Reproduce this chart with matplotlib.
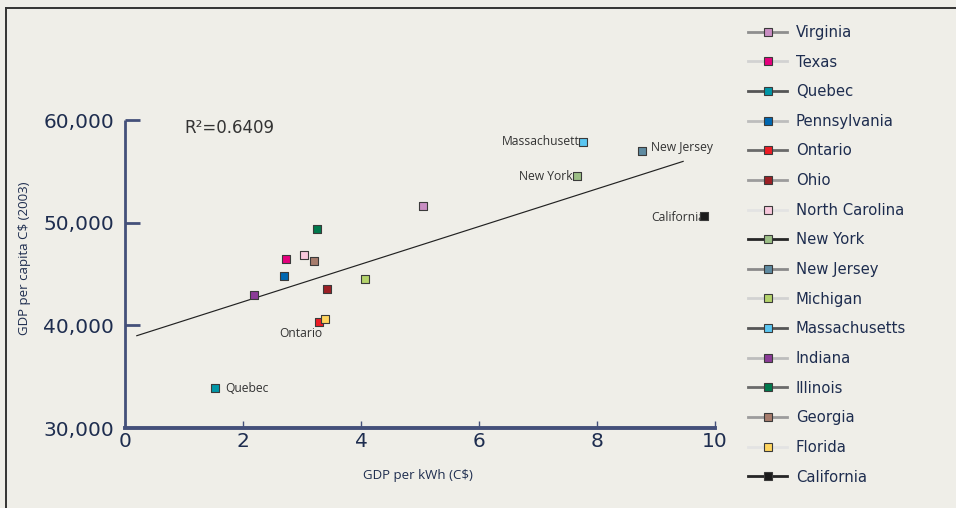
import matplotlib
matplotlib.use("Agg")
import matplotlib.pyplot as plt
from matplotlib.lines import Line2D

# Regions (legend order)
regions = ["Virginia", "Texas", "Quebec", "Pennsylvania", "Ontario", "Ohio",
           "North Carolina", "New York", "New Jersey", "Michigan",
           "Massachusetts", "Indiana", "Illinois", "Georgia", "Florida",
           "California"]
gdp_per_kwh = [5.05, 2.73, 1.53, 2.69, 3.29, 3.42, 3.03, 7.66, 8.76, 4.07,
               7.76, 2.19, 3.25, 3.20, 3.39, 9.81]
gdp_per_capita = [51600, 46460, 33900, 44800, 40320, 43530, 46850, 54540,
                  56970, 44510, 57850, 42950, 49380, 46260, 40610, 50640]
marker_colors = ["#c98ec3", "#e5007d", "#0097a7", "#0067b1", "#ed1c24",
                 "#9c1f24", "#f8c8dc", "#9cbf86", "#5f8ba1", "#b4d36b",
                 "#5bc6f1", "#8b3c97", "#00794c", "#a77c6c", "#ffd55e",
                 "#1b1b1b"]
legend_line_colors = ["#8e8e8e", "#d2d2d2", "#555555", "#bdbdbd", "#6a6a6a",
                      "#9c9c9c", "#e3e3e3", "#262626", "#8a8a8a", "#d2d2d2",
                      "#555555", "#bdbdbd", "#6a6a6a", "#9c9c9c", "#e3e3e3",
                      "#262626"]

# Trend line end points and fit statistic
trend_x = [0.2, 9.46]
trend_y = [38990, 55970]
r_squared = 0.6409

x_ticks = [0, 2, 4, 6, 8, 10]
y_ticks = [30000, 40000, 50000, 60000]
y_tick_labels = ["30,000", "40,000", "50,000", "60,000"]

# Labelled points: name -> (text, offset in px, horizontal alignment)
point_labels = {
    "Massachusetts": ("Massachusetts", (3, 1), "right"),
    "New Jersey": ("New Jersey", (9, 4), "left"),
    "New York": ("New York", (-4, 0), "right"),
    "California": ("California", (1, -1), "right"),
    "Ontario": ("Ontario", (-18, -11), "center"),
    "Quebec": ("Quebec", (10, -1), "left"),
}

bg = "#efeee8"
navy = "#1e2d4f"
axis_col = "#44507a"
note_col = "#333333"

fig = plt.figure(figsize=(9.56, 5.08), dpi=100, facecolor=bg)
ax = fig.add_axes([125 / 956, 1 - 428 / 508, 590 / 956, 308 / 508])
ax.set_facecolor(bg)

ax.plot(trend_x, trend_y, color="#222222", lw=0.85, zorder=2)
for name, x, y, c in zip(regions, gdp_per_kwh, gdp_per_capita, marker_colors):
    ax.scatter([x], [y], marker="s", s=30, facecolor=c, edgecolor="#3a3a3a",
               linewidth=0.8, zorder=4, clip_on=False)

idx = {n: i for i, n in enumerate(regions)}
for key, (text, (dx, dy), ha) in point_labels.items():
    i = idx[key]
    ax.annotate(text, (gdp_per_kwh[i], gdp_per_capita[i]), xytext=(dx * 0.72, dy * 0.72),
                textcoords="offset points", ha=ha, va="center", fontsize=8.7,
                color=note_col, family="Open Sans", zorder=3)

ax.text(0.1, 0.974, f"R\u00b2={r_squared:.4f}", transform=ax.transAxes,
        fontsize=12, color=note_col, family="DejaVu Sans", va="center")

ax.set_xlim(0, 10)
ax.set_ylim(30000, 60000)
for s in ["top", "right"]:
    ax.spines[s].set_visible(False)
ax.spines["left"].set_color(axis_col)
ax.spines["left"].set_linewidth(2.0)
ax.spines["bottom"].set_color(axis_col)
ax.spines["bottom"].set_linewidth(2.8)
ax.spines["left"].set_capstyle("butt")

ax.set_xticks(x_ticks)
ax.set_xticklabels([str(t) for t in x_ticks])
ax.set_yticks(y_ticks)
ax.set_yticklabels(y_tick_labels)
ax.tick_params(axis="y", direction="in", length=11, width=2.0, color=axis_col,
               labelsize=14.5, labelcolor=navy, pad=8)
ax.tick_params(axis="x", direction="in", length=5, width=1.0, color=axis_col,
               labelsize=14.5, labelcolor=navy, pad=3)
# the bottom tick at 30,000 is hidden by the axis line
ax.yaxis.get_major_ticks()[0].tick1line.set_visible(False)

fig.text(418 / 956, 1 - 476 / 508, "GDP per kWh (C$)", ha="center", va="center",
         fontsize=9.5, color=navy, family="Open Sans")
fig.text(25 / 956, 1 - 258 / 508, "GDP per capita C$ (2003)", ha="center",
         va="center", rotation=90, fontsize=9.5, color=navy, family="Open Sans")

handles = [Line2D([0], [0], color=lc, lw=2.0, marker="s", markersize=5.5,
                  markerfacecolor=mc, markeredgecolor="#3a3a3a",
                  markeredgewidth=0.8)
           for lc, mc in zip(legend_line_colors, marker_colors)]
fig.legend(handles, regions, loc="upper left",
           bbox_to_anchor=(742 / 956, 1 - 19 / 508), frameon=False,
           fontsize=10.7, labelcolor=navy, handlelength=2.65,
           handletextpad=0.58, labelspacing=0.985, borderaxespad=0)

# frame lines along the top and left edges
fig.add_artist(Line2D([6 / 956, 1], [1 - 8 / 508, 1 - 8 / 508], color="#333333",
                      lw=1.4, transform=fig.transFigure))
fig.add_artist(Line2D([6 / 956, 6 / 956], [0, 1 - 8 / 508], color="#333333",
                      lw=1.4, transform=fig.transFigure))

fig.savefig("out.png", dpi=100, facecolor=bg)
